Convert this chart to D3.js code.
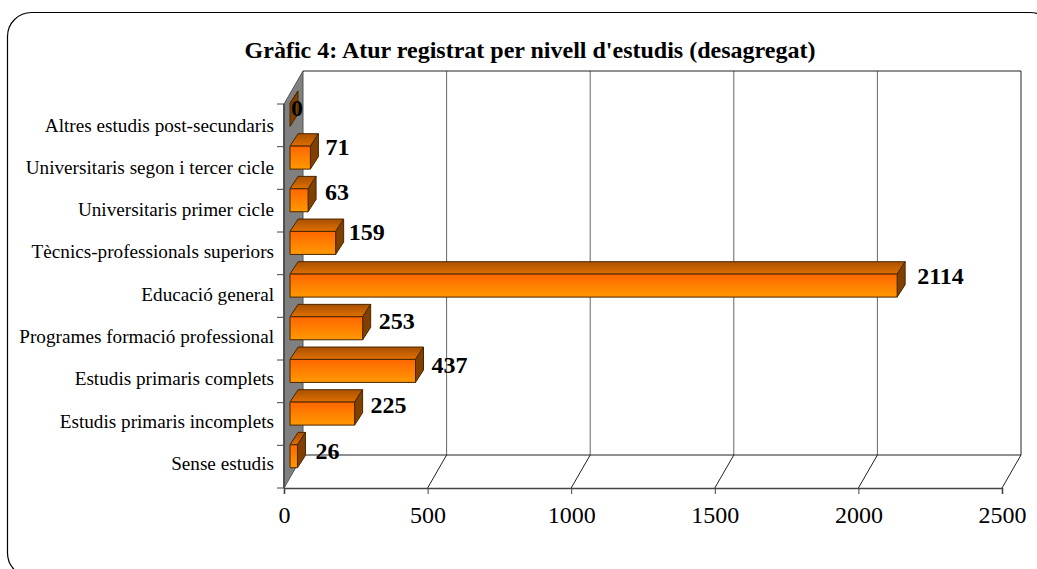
<!DOCTYPE html>
<html>
<head>
<meta charset="utf-8">
<script src="https://cdn.jsdelivr.net/npm/d3@7"></script>
<style>
  html, body { margin: 0; padding: 0; background: #fff; }
  svg { display: block; }
  text { font-family: "Liberation Serif", serif; fill: #000; }
</style>
</head>
<body>
<div id="chart"></div>
<script>
const chartTitle = "Gràfic 4: Atur registrat per nivell d'estudis (desagregat)";
const categories = [
    "Altres estudis post-secundaris",
    "Universitaris segon i tercer cicle",
    "Universitaris primer cicle",
    "Tècnics-professionals superiors",
    "Educació general",
    "Programes formació professional",
    "Estudis primaris complets",
    "Estudis primaris incomplets",
    "Sense estudis"
];
const values = [0, 71, 63, 159, 2114, 253, 437, 225, 26];
const xTicks = [0, 500, 1000, 1500, 2000, 2500];

const width = 1037;
const height = 569;

// plot box, front plane of the fake 3d
const plotLeft = 284, plotRight = 1002, plotTop = 104, plotBottom = 488;
const depthX = 19, depthY = -33;
// bars stand a little way back from the front plane
const barX = 6, barY = -10.4;
const barDX = 8, barDY = -12.4;
const barH = 23;

// the value labels in the original were not placed evenly, [dx, dy] per row
const labelNudge = [[-7, 3], [7, -1], [9, 2], [5, -1], [12, 0], [8, 3], [8, 4], [8, 1], [10, 5]];

const x = d3.scaleLinear().domain([0, 2500]).range([plotLeft, plotRight]);
const y = d3.scaleBand().domain(categories).range([plotTop, plotBottom]);
// category labels run slightly tighter than the ticks
const labelY = d3.scalePoint().domain(categories).range([131.5, 470]);

const svg = d3.select("#chart")
    .append("svg")
    .attr("width", width)
    .attr("height", height);

const defs = svg.append("defs");

function gradient(id, from, to) {
    const g = defs.append("linearGradient")
        .attr("id", id)
        .attr("x1", 0).attr("y1", 0)
        .attr("x2", 0).attr("y2", 1);
    g.append("stop").attr("offset", "0%").attr("stop-color", from);
    g.append("stop").attr("offset", "100%").attr("stop-color", to);
}
gradient("front", "#ff6600", "#ff9900");
gradient("topFace", "#a85000", "#e07000");

// outer rounded frame, runs off the page at the right and bottom
svg.append("rect")
    .attr("x", 7.5)
    .attr("y", 12.5)
    .attr("width", 1046.5)
    .attr("height", 564.5)
    .attr("rx", 24)
    .attr("fill", "#fff")
    .attr("stroke", "#000")
    .attr("stroke-width", 1.2);

svg.append("text")
    .attr("x", 530)
    .attr("y", 58)
    .attr("text-anchor", "middle")
    .attr("font-size", 24)
    .attr("font-weight", "bold")
    .text(chartTitle);

// side wall
svg.append("polygon")
    .attr("points", [
        [plotLeft, plotTop], [plotLeft + depthX, plotTop + depthY],
        [plotLeft + depthX, plotBottom + depthY], [plotLeft, plotBottom]
    ].join(" "))
    .attr("fill", "#808080")
    .attr("stroke", "#555")
    .attr("stroke-width", 1);

// back gridlines
svg.append("g")
    .selectAll("line")
    .data(xTicks.slice(1, -1))
    .join("line")
    .attr("x1", d => x(d) + depthX)
    .attr("x2", d => x(d) + depthX)
    .attr("y1", plotTop + depthY)
    .attr("y2", plotBottom + depthY)
    .attr("stroke", "#666")
    .attr("stroke-width", 1);

// back frame
svg.append("path")
    .attr("d", `M${plotLeft + depthX},${plotTop + depthY}H${plotRight + depthX}V${plotBottom + depthY}H${plotLeft + depthX}`)
    .attr("fill", "none")
    .attr("stroke", "#222")
    .attr("stroke-width", 1);

// floor diagonals
svg.append("g")
    .selectAll("line")
    .data(xTicks.slice(1))
    .join("line")
    .attr("x1", d => x(d))
    .attr("x2", d => x(d) + depthX)
    .attr("y1", plotBottom)
    .attr("y2", plotBottom + depthY)
    .attr("stroke", "#222")
    .attr("stroke-width", 1);

// bottom axis
const xAxis = svg.append("g")
    .attr("transform", `translate(0,${plotBottom})`)
    .call(d3.axisBottom(x).tickValues(xTicks).tickFormat(d3.format("d")).tickSize(6).tickPadding(12));
xAxis.select(".domain").attr("stroke", "#444").attr("stroke-width", 1.6);
xAxis.selectAll(".tick line").attr("stroke", "#444");
xAxis.selectAll("text")
    .attr("font-family", "Liberation Serif")
    .attr("font-size", 24)
    .attr("fill", "#000");

// left axis, ticks sit on the band edges
const leftAxis = svg.append("g");
leftAxis.append("line")
    .attr("x1", plotLeft).attr("x2", plotLeft)
    .attr("y1", plotTop).attr("y2", plotBottom)
    .attr("stroke", "#444")
    .attr("stroke-width", 1.6);
leftAxis.selectAll("line.tick")
    .data(categories.map(c => y(c)).concat(plotBottom))
    .join("line")
    .attr("class", "tick")
    .attr("x1", plotLeft - 7).attr("x2", plotLeft)
    .attr("y1", d => d).attr("y2", d => d)
    .attr("stroke", "#444");
leftAxis.selectAll("text")
    .data(categories)
    .join("text")
    .attr("x", plotLeft - 10)
    .attr("y", d => labelY(d))
    .attr("text-anchor", "end")
    .attr("font-size", 19.2)
    .text(d => d);

// bars
const rows = categories.map((c, i) => ({ cat: c, value: values[i], nudge: labelNudge[i] }));

const bars = svg.append("g")
    .selectAll("g")
    .data(rows)
    .join("g")
    .attr("transform", d => {
        const cy = y(d.cat) + y.bandwidth() / 2 + barY - barH / 2;
        return `translate(${x(0) + barX},${cy})`;
    })
    .attr("stroke", "#4a2600")
    .attr("stroke-width", 1)
    .attr("stroke-linejoin", "round");

const w = d => x(d.value) - x(0);

bars.append("polygon")
    .attr("points", d => [
        [0, 0], [barDX, barDY], [w(d) + barDX, barDY], [w(d), 0]
    ].join(" "))
    .attr("fill", "url(#topFace)");

bars.append("polygon")
    .attr("points", d => [
        [w(d), 0], [w(d) + barDX, barDY], [w(d) + barDX, barH + barDY], [w(d), barH]
    ].join(" "))
    .attr("fill", "#804000");

bars.append("rect")
    .attr("width", d => w(d))
    .attr("height", barH)
    .attr("fill", "url(#front)");

// value labels
svg.append("g")
    .selectAll("text")
    .data(rows)
    .join("text")
    .attr("x", d => x(d.value) + barX + barDX + d.nudge[0])
    .attr("y", d => y(d.cat) + y.bandwidth() / 2 + barY - 2 + d.nudge[1])
    .attr("font-size", 24)
    .attr("font-weight", "bold")
    .text(d => d.value);
</script>
</body>
</html>
